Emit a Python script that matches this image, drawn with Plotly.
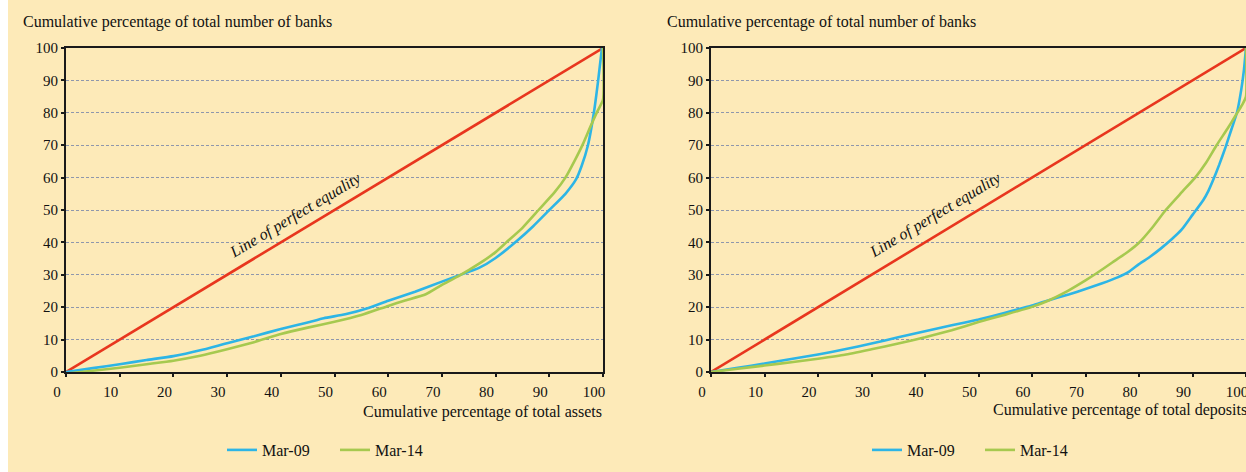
import plotly.graph_objects as go

W, H = 1246, 472

# ---- data ----
ticks = [0, 10, 20, 30, 40, 50, 60, 70, 80, 90, 100]
equality = [0, 100]

assets_x_09 = [0, 5, 10, 15, 20, 25, 30, 35, 40, 45, 48, 52, 56, 60, 65, 70, 73, 77, 80, 84, 87, 90, 93, 95, 96, 97.2, 98.3, 99.1, 99.8]
assets_y_09 = [0, 1.2, 2.4, 3.7, 4.9, 6.7, 8.9, 11, 13.3, 15.3, 16.6, 17.8, 19.6, 22, 24.8, 27.9, 29.7, 32.2, 35.2, 40.5, 45, 50, 55, 59.5, 63.5, 70, 80, 90, 100]

assets_x_14 = [0, 5, 10, 15, 20, 25, 30, 35, 40, 45, 50, 55, 60, 63, 67, 70, 73, 77, 80, 82, 85, 88, 91, 93, 94.8, 96.3, 97.6, 98.9, 100, 100]
assets_y_14 = [-0.5, 0.4, 1.3, 2.4, 3.5, 5, 7, 9.2, 11.7, 13.7, 15.5, 17.6, 20.4, 22, 24, 26.9, 29.5, 33.5, 37, 40, 44.5, 50, 55.5, 60, 65.5, 70.5, 75.5, 80.3, 84, 100]

dep_x_09 = [0, 5, 10, 15, 20, 25, 30, 35, 40, 45, 50, 55, 60, 63, 67, 70, 73, 76, 78, 80, 82, 84, 86, 88, 90, 92, 93, 93.8, 95, 96.2, 97.3, 98.3, 99.1, 99.6, 100]
dep_y_09 = [0, 1.3, 2.6, 4.0, 5.4, 7.0, 8.8, 10.7, 12.6, 14.4, 16.2, 18.3, 20.5, 22.1, 24.0, 25.6, 27.3, 29.2, 30.8, 33.3, 35.5, 38, 40.8, 44, 48.5, 53, 56, 59, 64, 69.5, 75, 80, 87, 93, 100]

dep_x_14 = [0, 5, 10, 15, 20, 25, 30, 35, 40, 45, 50, 55, 60, 63, 66, 70, 72, 75, 78, 80, 82.5, 85, 88, 90.5, 92.5, 94.5, 96.5, 98, 99.3, 100, 100]
dep_y_14 = [0, 1.0, 2.0, 3.0, 4.1, 5.3, 7.0, 8.8, 10.7, 12.9, 15.4, 17.7, 20.1, 22, 24.4, 28.3, 30.4, 33.8, 37.2, 39.9, 44.6, 50, 55.5, 60, 64.5, 70, 75, 79, 82.5, 85, 100]

series_names = ["Mar-09", "Mar-14"]

# ---- style ----
BG = "#FDEAB8"
RED = "#E8361E"
BLUE = "#2DB5E6"
GREEN = "#A6C94F"
GRID = "#8F97AC"
FONT = "Liberation Serif, Times New Roman, Times, serif"

def px(x):
    return x / W

def py(y):
    return 1 - y / H

fig = go.Figure()

def curve(x, y, name, color, xa, ya, leg):
    return go.Scatter(x=x, y=y, mode="lines", name=name,
                      line=dict(color=color, width=2.6, shape="spline", smoothing=0.5),
                      xaxis=xa, yaxis=ya, legend=leg, hoverinfo="skip")

# left panel
fig.add_trace(go.Scatter(x=equality, y=equality, mode="lines", line=dict(color=RED, width=2.6),
                         showlegend=False, xaxis="x", yaxis="y", hoverinfo="skip"))
fig.add_trace(curve(assets_x_09, assets_y_09, series_names[0], BLUE, "x", "y", "legend"))
fig.add_trace(curve(assets_x_14, assets_y_14, series_names[1], GREEN, "x", "y", "legend"))
# right panel
fig.add_trace(go.Scatter(x=equality, y=equality, mode="lines", line=dict(color=RED, width=2.6),
                         showlegend=False, xaxis="x2", yaxis="y2", hoverinfo="skip"))
fig.add_trace(curve(dep_x_09, dep_y_09, series_names[0], BLUE, "x2", "y2", "legend2"))
fig.add_trace(curve(dep_x_14, dep_y_14, series_names[1], GREEN, "x2", "y2", "legend2"))

ydom = [py(372), py(48)]
TF = dict(family=FONT, size=15, color="#111")
LF = dict(family=FONT, size=16, color="#111")

def xaxis(dom, anchor):
    return dict(domain=dom, anchor=anchor, range=[0, 100], tickvals=ticks, ticktext=[str(t) for t in ticks],
                showgrid=False, zeroline=False, showline=True, linecolor="#1a1a1a", linewidth=2, mirror=True,
                ticks="outside", ticklen=3, tickwidth=2, tickcolor="#1a1a1a", ticklabelshift=-9,
                ticklabelstandoff=2, ticklabeloverflow="allow", tickfont=TF, automargin=False, fixedrange=True)

def yaxis(anchor):
    return dict(domain=ydom, anchor=anchor, range=[0, 100], tickvals=ticks, ticktext=[str(t) for t in ticks],
                showgrid=True, gridcolor=GRID, gridwidth=1, griddash="3px,2px", zeroline=False,
                showline=True, linecolor="#1a1a1a", linewidth=2, mirror=True,
                ticks="outside", ticklen=3, tickwidth=2, tickcolor="#1a1a1a",
                tickfont=TF, automargin=False, fixedrange=True)

legend_common = dict(orientation="h", bgcolor="rgba(0,0,0,0)", font=LF,
                     yanchor="middle", y=py(450), xanchor="left", entrywidth=68, entrywidthmode="pixels")

def ann(text, x, y, xa="left"):
    return dict(text=text, xref="paper", yref="paper", x=px(x), y=py(y), xanchor=xa, yanchor="middle",
                showarrow=False, font=LF)

fig.update_layout(
    width=W, height=H,
    margin=dict(l=0, r=0, t=0, b=0),
    paper_bgcolor="white", plot_bgcolor="rgba(0,0,0,0)",
    font=TF,
    xaxis=xaxis([px(66), px(603)], "y"),
    yaxis=yaxis("x"),
    xaxis2=xaxis([px(711), 1.0], "y2"),
    yaxis2=yaxis("x2"),
    legend=dict(x=px(222), **legend_common),
    legend2=dict(x=px(867), **legend_common),
    shapes=[dict(type="rect", xref="paper", yref="paper", x0=px(8), x1=1, y0=0, y1=1,
                 fillcolor=BG, line=dict(width=0), layer="below")],
    annotations=[
        ann("Cumulative percentage of total number of banks", 21, 22),
        ann("Cumulative percentage of total number of banks", 665, 22),
        ann("Cumulative percentage of total assets", 604, 412, "right"),
        ann("Cumulative percentage of total deposits", 1249, 410, "right"),
        dict(text="<i>Line of perfect equality</i>", xref="x", yref="y", x=42.8, y=48.5,
             textangle=-31, showarrow=False, font=LF),
        dict(text="<i>Line of perfect equality</i>", xref="x2", yref="y2", x=41.9, y=48.5,
             textangle=-31, showarrow=False, font=LF),
    ],
)

fig.write_html("out.html", config={"displayModeBar": False},
               post_script="document.body.style.margin='0';")
